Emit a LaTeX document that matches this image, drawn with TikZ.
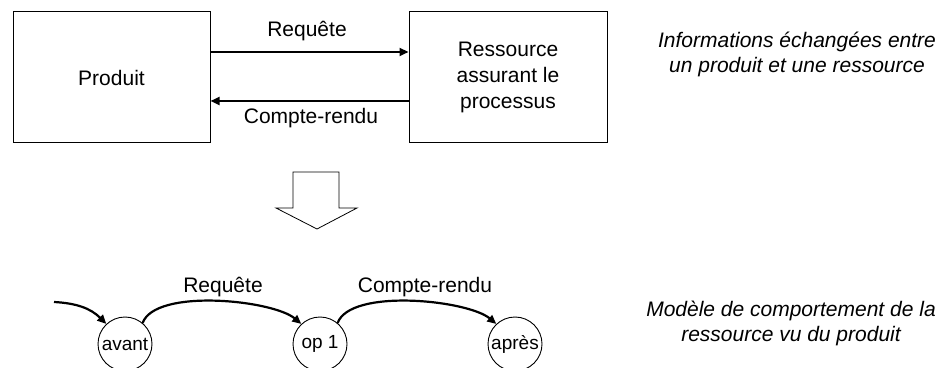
\documentclass[tikz,border=0pt]{standalone}
\usepackage{fontspec}
\setmainfont{Liberation Sans}
\usetikzlibrary{arrows.meta}
\begin{document}
\begin{tikzpicture}[x=1pt,y=1pt,
  box/.style={draw=black,line width=1pt,inner sep=0pt,align=center,
    font=\fontsize{21}{26}\selectfont},
  lbl/.style={inner sep=0pt,font=\fontsize{21}{25}\selectfont},
  note/.style={inner sep=0pt,align=center,font=\fontsize{21}{25}\selectfont\itshape},
  state/.style={draw=black,line width=0.9pt,circle,inner sep=0pt,minimum size=54pt,
    font=\fontsize{19}{22}\selectfont},
  arr/.style={line width=2.2pt,-{Triangle[length=9pt,width=8pt]}},
  bigarrow/.style={draw=black,line width=0.8pt,fill=white}]
\useasboundingbox (0,0) rectangle (950,367);
% top part
\node[box,minimum width=197pt,minimum height=131pt] (prod) at (111.5,289.5) {Produit};
\node[box,minimum width=198pt,minimum height=131pt] (res) at (508,289.5) {Ressource\\assurant le\\processus};
\draw[arr] ([yshift=25.5pt]prod.east) -- ([yshift=25.5pt]res.west);
\draw[arr] ([yshift=-23.5pt]res.west) -- ([yshift=-23.5pt]prod.east);
\node[lbl] (lreq) at (307,336) {Requête};
\node[lbl] (lcr) at (311,249) {Compte-rendu};
\node[note] (n1) at (797,312.5) {Informations échangées entre\\un produit et une ressource};
% hollow arrow
\draw[bigarrow] (293,195) -- (339,195) -- (339,159) -- (357,159) -- (317,138) -- (276,159) -- (293,159) -- cycle;
% bottom part
\node[state] (avant) at (125,23) {avant};
\node[state] (op) at (320,23) {op 1};
\node[state] (apres) at (515,23) {après};
\coordinate (start) at (54,65);
\draw[arr] (start) to[out=-3,in=135] (avant.133);
\draw[arr] (avant.50) to[out=70,in=140,looseness=0.6] (op.133);
\draw[arr] (op.50) to[out=70,in=140,looseness=0.6] (apres.133);
\node[lbl] (lreq2) at (223,80) {Requête};
\node[lbl] (lcr2) at (425,80) {Compte-rendu};
\node[note] (n2) at (791,43.5) {Modèle de comportement de la\\ressource vu du produit};
\end{tikzpicture}
\end{document}
